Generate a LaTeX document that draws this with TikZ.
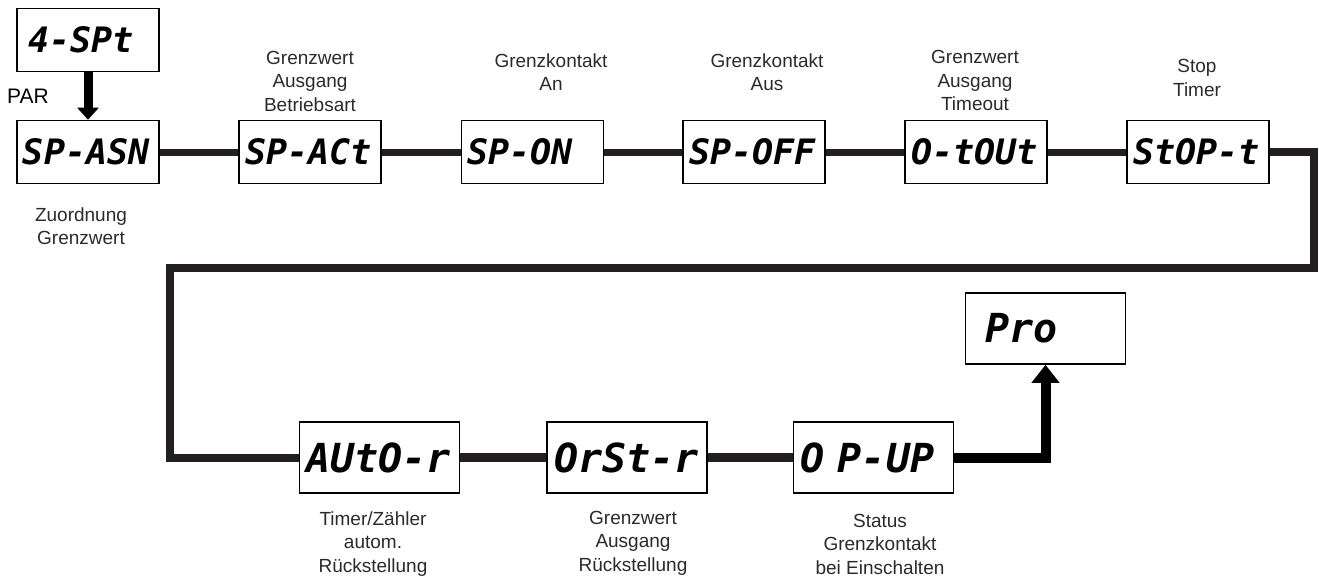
\documentclass[tikz,border=0pt]{standalone}
\usepackage{fontspec}
\setmainfont{Liberation Sans}
\newfontfamily\lcdfont{DejaVu Sans Mono}
\usetikzlibrary{arrows.meta}
\definecolor{ink}{HTML}{231F20}
\definecolor{lblc}{HTML}{2A2A2A}
\begin{document}
\begin{tikzpicture}[x=1pt,y=-1pt,
  topbox/.style={draw=black,line width=1.6pt,minimum width=142pt,minimum height=63pt,
    inner xsep=6pt,inner ysep=0pt,text width=130pt,align=left,
    font=\lcdfont\bfseries\itshape\fontsize{35}{35}\selectfont},
  botbox/.style={draw=black,line width=1.6pt,minimum width=160pt,minimum height=71pt,
    inner xsep=7pt,inner ysep=0pt,text width=146pt,align=left,
    font=\lcdfont\bfseries\itshape\fontsize{40}{40}\selectfont},
  lbl/.style={align=center,text=lblc,inner sep=0pt,font=\fontsize{19}{23.5}\selectfont},
  topline/.style={draw=ink,line width=7pt},
  botline/.style={draw=ink,line width=9pt},
  loopline/.style={draw=ink,line width=8pt},
  bigarrow/.style={draw=black,line width=#1},
]
\useasboundingbox (0,0) rectangle (1319,578);

% boxes
\node[topbox,inner xsep=11pt,text width=120pt] (spt) at (88,40) {4-SPt};
\node[topbox] (asn) at (88,152) {SP-ASN};
\node[topbox] (act) at (310,152) {SP-ACt};
\node[topbox] (on) at (532.5,152) {SP-ON};
\node[topbox] (off) at (754,152) {SP-OFF};
\node[topbox] (tout) at (976,152) {O-tOUt};
\node[topbox] (stopt) at (1198,152) {StOP-t};
\node[botbox] (auto) at (379.5,457.5) {AUtO-r};
\node[botbox] (orst) at (627,457.5) {OrSt-r};
\node[botbox] (opup) at (873.5,457.5) {O P-UP};
\node[botbox,inner xsep=19pt,text width=121pt] (pro) at (1045.5,328.5) {Pro};

% labels
\node[font=\fontsize{21}{21}\selectfont,inner sep=0pt] (par) at (28,96) {PAR};
\node[lbl] (lasn) at (81,226) {Zuordnung\\Grenzwert};
\node[lbl] (lact) at (310,81) {Grenzwert\\Ausgang\\Betriebsart};
\node[lbl] (lon) at (551,72) {Grenzkontakt\\An};
\node[lbl] (loff) at (767,72) {Grenzkontakt\\Aus};
\node[lbl] (ltout) at (975,80.5) {Grenzwert\\Ausgang\\Timeout};
\node[lbl] (lstopt) at (1197,78) {Stop\\Timer};
\node[lbl] (lauto) at (373,544) {Timer/Zähler\\autom.\\Rückstellung};
\node[lbl] (lorst) at (633,543) {Grenzwert\\Ausgang\\Rückstellung};
\node[lbl] (lopup) at (880,544) {Status\\Grenzkontakt\\bei Einschalten};

% connectors
\coordinate (r1) at (1314,268);
\coordinate (l1) at (170,268);
\draw[bigarrow=9pt,-{Triangle[width=21pt,length=12pt]}] (spt.south) -- (asn.north);
\draw[topline] (asn.east) -- (act.west);
\draw[topline] (act.east) -- (on.west);
\draw[topline] (on.east) -- (off.west);
\draw[topline] (off.east) -- (tout.west);
\draw[topline] (tout.east) -- (stopt.west);
\draw[loopline] (stopt.east) -| (r1) -- (l1) |- (auto.west);
\draw[botline] (auto.east) -- (orst.west);
\draw[botline] (orst.east) -- (opup.west);
\draw[bigarrow=10pt,-{Triangle[width=27pt,length=18pt]}] (opup.east) -| (pro.south);
\end{tikzpicture}
\end{document}
